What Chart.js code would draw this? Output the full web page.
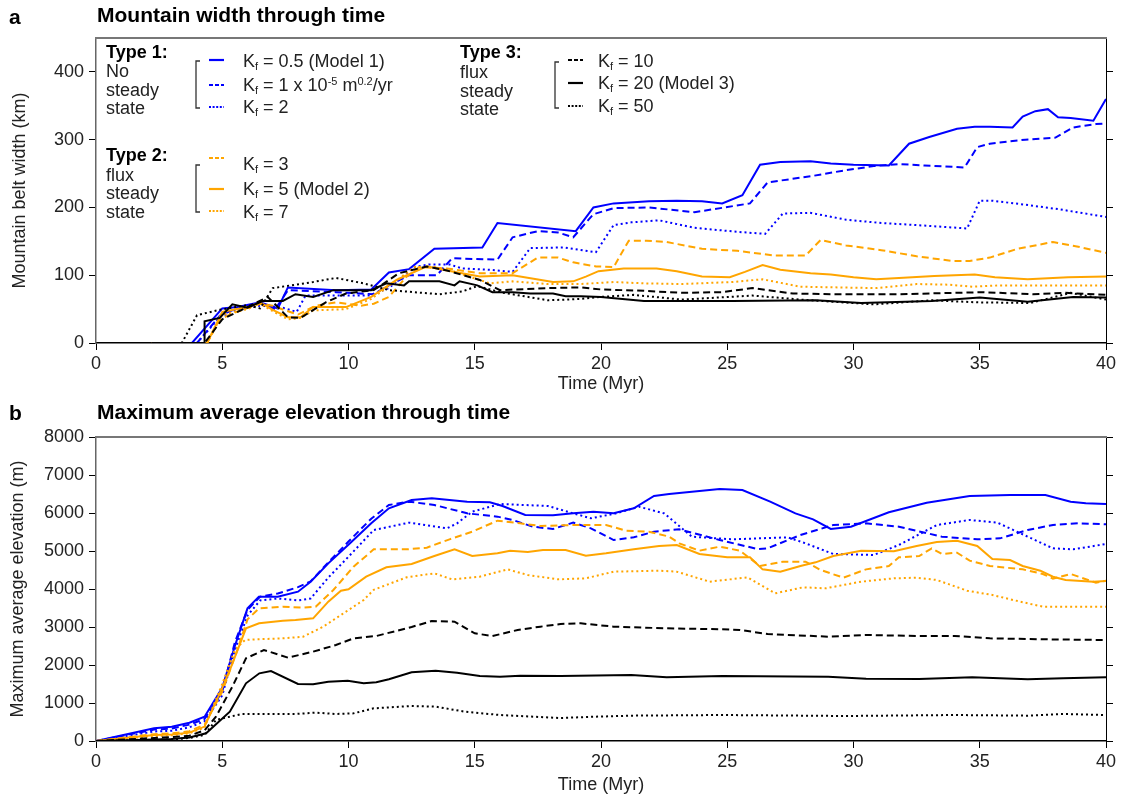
<!DOCTYPE html>
<html><head><meta charset="utf-8">
<script src="https://cdn.jsdelivr.net/npm/chart.js@4.4.1/dist/chart.umd.min.js"></script>
<style>
body{margin:0;background:#fff;}
#wrap{position:relative;width:1123px;height:801px;overflow:hidden;font-family:'Liberation Sans',Arial,sans-serif;color:#222;}
canvas{position:absolute;left:0;}
.t{position:absolute;white-space:nowrap;font-size:18px;line-height:22px;}
.b{font-weight:bold;color:#000;}
.h{position:absolute;white-space:nowrap;font-weight:bold;font-size:21px;line-height:26px;color:#000;}
sub{font-size:11px;vertical-align:-3px;line-height:0;}
sup{font-size:11px;vertical-align:6px;line-height:0;}
svg{position:absolute;left:0;top:0;}
</style></head>
<body><div id="wrap">
<canvas id="ca" width="1123" height="400" style="top:0"></canvas>
<canvas id="cb" width="1123" height="401" style="top:400px"></canvas>
<svg width="1123" height="801" viewBox="0 0 1123 801">
 <g fill="none" stroke="#333" stroke-width="1.3">
  <path d="M200 61 H196 V108 H200"/>
  <path d="M200 165 H196 V212 H200"/>
  <path d="M559 62 H555 V108 H559"/>
 </g>
 <g fill="none" stroke-width="2.2">
  <line x1="209" y1="60" x2="224" y2="60" stroke="#0000ff"/>
  <line x1="209" y1="85" x2="224" y2="85" stroke="#0000ff" stroke-dasharray="4,2"/>
  <line x1="209" y1="107" x2="224" y2="107" stroke="#0000ff" stroke-dasharray="2,1.6"/>
  <line x1="209" y1="158" x2="224" y2="158" stroke="#ffa500" stroke-dasharray="4,2"/>
  <line x1="209" y1="189" x2="224" y2="189" stroke="#ffa500"/>
  <line x1="209" y1="211" x2="224" y2="211" stroke="#ffa500" stroke-dasharray="2,1.6"/>
  <line x1="568" y1="60" x2="583" y2="60" stroke="#000" stroke-dasharray="4,2"/>
  <line x1="568" y1="83" x2="583" y2="83" stroke="#000"/>
  <line x1="568" y1="106" x2="583" y2="106" stroke="#000" stroke-dasharray="2,1.6"/>
 </g>
</svg>
<div class="h" style="left:9px;top:4px">a</div>
<div class="h" style="left:97px;top:2px">Mountain width through time</div>
<div class="h" style="left:9px;top:400px">b</div>
<div class="h" style="left:97px;top:399px">Maximum average elevation through time</div>

<div class="t b" style="left:106px;top:41px">Type 1:</div>
<div class="t" style="left:106px;top:60px">No</div>
<div class="t" style="left:106px;top:79px">steady</div>
<div class="t" style="left:106px;top:97px">state</div>
<div class="t" style="left:243px;top:50px">K<sub>f</sub> = 0.5 (Model 1)</div>
<div class="t" style="left:243px;top:74px">K<sub>f</sub> = 1 x 10<sup>-5</sup> m<sup>0.2</sup>/yr</div>
<div class="t" style="left:243px;top:96px">K<sub>f</sub> = 2</div>

<div class="t b" style="left:106px;top:144px">Type 2:</div>
<div class="t" style="left:106px;top:164px">flux</div>
<div class="t" style="left:106px;top:182px">steady</div>
<div class="t" style="left:106px;top:201px">state</div>
<div class="t" style="left:243px;top:153px">K<sub>f</sub> = 3</div>
<div class="t" style="left:243px;top:178px">K<sub>f</sub> = 5 (Model 2)</div>
<div class="t" style="left:243px;top:201px">K<sub>f</sub> = 7</div>

<div class="t b" style="left:460px;top:41px">Type 3:</div>
<div class="t" style="left:460px;top:61px">flux</div>
<div class="t" style="left:460px;top:80px">steady</div>
<div class="t" style="left:460px;top:98px">state</div>
<div class="t" style="left:598px;top:50px">K<sub>f</sub> = 10</div>
<div class="t" style="left:598px;top:72px">K<sub>f</sub> = 20 (Model 3)</div>
<div class="t" style="left:598px;top:95px">K<sub>f</sub> = 50</div>
</div>
<script>
// ---------- Panel a: mountain belt width (km) ----------
const A_K05_T = [2.2,3.8,5.0,5.6,6.5,7.2,7.6,9.5,10.9,11.6,12.4,13.4,15.3,15.9,19.0,19.7,20.5,21.9,23.0,24.0,24.8,25.6,26.3,27.1,28.3,29.1,30.0,31.4,32.2,33.0,34.1,34.8,35.4,36.3,36.7,37.2,37.7,38.1,38.6,39.5,40.0];
const A_K05_V = [0,0,51,53,60,51,82,78,79,104,109,139,141,177,165,200,206,209,210,209,206,218,263,267,268,265,263,262,294,304,316,319,319,318,334,342,345,333,332,328,360];
const A_K1_T = [2.2,4.0,4.9,5.5,6.5,7.1,7.6,9.5,11.0,11.6,12.4,13.5,14.1,15.9,16.5,17.5,18.3,18.9,19.7,20.5,21.9,23.7,24.9,25.9,26.6,28.3,29.7,30.8,31.8,32.8,34.4,34.9,35.4,36.8,38.0,38.7,39.6,40.0];
const A_K1_V = [0,0,40,50,58,50,78,75,72,85,100,100,125,123,156,165,163,156,190,199,200,193,200,206,237,246,255,261,264,262,259,289,294,300,303,318,323,324];
const A_K2_T = [2.2,4.0,4.9,5.5,6.5,7.3,7.95,8.3,8.9,10.8,11.6,12.6,13.2,14.0,14.5,15.6,16.5,17.2,18.5,19.8,20.5,21.2,22.3,23.7,25.4,26.5,27.2,28.3,29.7,31.1,32.5,34.5,35.0,35.5,36.8,38.2,40.0];
const A_K2_V = [0,0,38,48,55,53,46,70,70,70,81,112,116,116,110,108,105,140,141,134,174,178,181,170,164,161,191,192,182,177,174,169,210,210,204,197,186];
const A_K3_T = [2.2,4.4,4.9,5.5,6.5,7.0,7.5,8.0,8.7,9.5,10.5,11.0,11.6,12.3,12.8,13.9,15.2,16.5,17.5,18.3,18.9,19.8,20.5,21.1,21.8,22.6,24.0,25.4,26.9,28.1,28.7,29.7,31.1,32.5,33.9,34.6,35.4,36.5,37.9,38.9,40.0];
const A_K3_V = [0,0,35,45,58,55,48,42,55,60,55,58,68,98,112,110,103,103,126,126,119,113,112,151,151,149,139,136,129,129,152,144,137,128,121,121,126,139,149,142,133];
const A_K5_T = [2.2,4.4,5.0,6.0,6.5,7.0,7.6,8.1,8.6,9.9,10.9,11.9,13.1,13.9,15.2,16.5,18.1,18.9,19.4,19.9,20.9,22.2,23.0,24.0,25.1,25.7,26.4,27.1,28.3,29.1,30.0,30.9,31.8,33.2,34.8,35.6,36.9,38.5,40.0];
const A_K5_V = [0,0,46,53,60,49,38,38,53,53,68,93,113,107,98,100,90,91,98,106,110,110,106,98,97,105,115,108,103,101,97,94,96,99,101,97,94,97,98];
const A_K7_T = [2.2,4.4,5.0,6.0,6.5,7.0,7.6,8.1,8.6,9.9,10.9,11.9,12.6,13.4,14.2,15.6,16.5,17.9,19.2,20.5,21.7,23.2,25.2,26.4,27.9,30.9,32.5,33.8,34.7,35.8,40.0];
const A_K7_V = [0,0,42,50,58,47,35,37,48,50,65,92,112,112,105,88,91,87,87,90,88,87,90,94,83,81,87,86,83,85,85];
const A_K10_T = [2.2,4.3,5.0,6.0,6.8,7.6,8.1,9.1,9.9,11.0,12.0,13.1,13.9,15.2,16.0,17.9,19.2,20.0,21.7,23.2,24.8,26.0,27.6,29.2,31.8,35.1,37.1,38.4,40.0];
const A_K10_V = [0,0,35,53,68,38,37,60,73,78,103,113,107,93,78,81,82,79,77,74,75,81,73,72,72,75,72,74,71];
const A_K20_T = [2.2,4.3,4.3,4.9,5.4,6.0,6.6,7.4,7.9,8.6,9.4,10.9,11.5,12.2,12.4,13.6,14.2,14.4,15.1,15.7,16.5,17.2,18.1,18.6,19.2,20.0,21.7,25.2,28.5,30.3,33.1,35.0,36.9,38.7,40.0];
const A_K20_V = [0,0,32,37,57,52,62,62,72,68,78,78,88,85,91,91,85,91,85,75,75,73,73,69,69,68,62,62,63,59,62,67,61,68,67];
const A_K50_T = [2.2,3.4,4.0,4.9,6.0,6.5,7.0,8.6,9.5,10.6,11.6,12.6,13.6,14.5,15.1,16.0,17.9,19.2,20.0,21.3,23.2,26.0,27.9,30.8,33.1,34.9,37.0,38.6,40.0];
const A_K50_V = [0,0,41,49,56,51,81,90,96,88,78,75,72,76,84,75,63,65,68,71,64,70,64,57,63,60,59,74,64];

// ---------- Panel b: maximum average elevation (m) ----------
const B_K05_T = [0,2.3,3.0,3.7,4.3,5.0,5.5,6.0,6.45,7.2,8.0,8.5,9.2,10.06,10.9,11.6,12.5,13.3,14.7,15.6,16.1,17.0,18.1,18.9,19.7,20.5,21.3,22.1,22.7,24.7,25.6,26.7,27.7,28.4,29.1,29.9,31.4,32.9,34.6,36.2,37.6,38.6,39.2,40.0];
const B_K05_V = [0,333,377,482,640,1400,2500,3490,3798,3798,3930,4193,4675,5202,5728,6123,6342,6390,6298,6280,6184,5947,5940,5991,6034,5991,6123,6447,6500,6632,6605,6298,5991,5833,5579,5640,6018,6272,6447,6474,6474,6298,6254,6237];
const B_K1_T = [0,2.3,3.0,3.7,4.3,5.0,5.5,6.0,6.5,7.2,8.0,8.5,9.2,10.0,10.9,11.6,12.4,13.4,14.7,15.9,16.5,17.3,18.1,18.9,19.6,20.5,21.3,22.1,23.1,24.7,26.2,26.6,27.9,29.2,30.5,31.8,33.5,34.9,35.8,36.9,37.9,38.9,40.0];
const B_K1_V = [0,300,330,430,580,1300,2600,3450,3800,3880,4050,4200,4700,5250,5850,6211,6298,6211,5991,5904,5816,5640,5579,5746,5596,5289,5360,5509,5570,5289,5052,5070,5421,5684,5728,5640,5377,5307,5333,5553,5684,5728,5702];
const B_K2_T = [0,2.3,3.0,3.7,4.3,5.0,5.5,6.0,6.5,7.2,8.0,8.5,9.2,10.0,11.0,12.4,13.9,14.3,14.9,16.0,17.9,18.9,19.6,20.6,21.5,22.5,23.6,25.2,27.4,28.1,29.2,30.8,31.8,33.3,34.6,35.7,36.9,37.9,38.7,40.0];
const B_K2_V = [0,250,270,360,520,1200,2400,3300,3700,3750,3700,3750,4300,4850,5553,5746,5596,5728,6034,6237,6184,5991,5860,5991,6166,5991,5377,5307,5360,5202,4921,4895,5158,5684,5816,5746,5377,5070,5044,5184];
const B_K3_T = [0,2.3,3.0,3.7,4.3,5.0,5.6,6.0,6.46,7.4,8.2,8.7,9.4,10.2,11.0,12.3,13.1,14.0,14.9,15.9,16.8,17.6,18.9,20.2,21.0,21.9,22.7,23.1,23.9,24.7,25.5,26.3,27.2,28.1,28.7,29.6,30.5,31.4,31.8,32.6,33.1,33.5,34.1,34.6,35.4,36.7,37.5,37.9,38.6,39.6,40.0];
const B_K3_V = [0,180,200,260,430,1300,2400,3200,3491,3535,3509,3535,3974,4587,5044,5044,5088,5307,5509,5798,5728,5658,5684,5684,5535,5509,5377,5202,5009,5114,5009,4605,4719,4719,4500,4298,4517,4605,4833,4868,5070,4921,4956,4745,4605,4517,4395,4271,4395,4166,4219];
const B_K5_T = [0,2.3,3.0,3.7,4.3,5.0,5.3,5.94,6.46,7.4,7.9,8.6,9.2,9.7,10.0,10.7,11.5,12.5,13.4,14.2,14.9,15.9,16.4,17.1,17.7,18.6,19.4,20.2,21.3,22.3,23.0,23.9,25.0,25.9,26.4,27.1,27.9,28.5,29.2,30.3,31.6,32.5,33.3,34.1,34.9,35.5,36.2,36.7,37.4,37.9,38.4,39.5,40.0];
const B_K5_V = [0,160,170,220,380,1400,1868,2965,3097,3167,3184,3228,3667,3956,3991,4324,4570,4658,4868,5044,4868,4939,5009,4974,5026,5026,4877,4939,5044,5132,5158,4921,4833,4833,4517,4456,4605,4702,4868,5009,4991,5132,5237,5272,5132,4789,4763,4605,4482,4324,4237,4193,4211];
const B_K7_T = [0,2.3,3.0,3.7,4.3,5.0,5.5,5.9,6.3,7.4,8.2,9.0,9.8,10.6,11.0,12.3,13.4,14.1,15.2,16.3,17.1,18.3,19.4,20.5,22.3,23.0,24.3,25.8,26.9,28.0,28.9,30.3,31.6,32.5,33.3,34.5,35.5,36.6,37.5,40.0];
const B_K7_V = [0,130,150,200,360,1500,2400,2658,2675,2702,2745,3009,3360,3711,3980,4307,4412,4254,4324,4517,4368,4254,4281,4456,4482,4456,4193,4307,3886,4044,4018,4193,4281,4298,4237,3956,3842,3667,3535,3535];
const B_K10_T = [0,2.3,3.0,3.7,4.3,4.75,5.4,5.94,6.65,7.6,8.6,9.5,10.2,11.1,12.5,13.3,14.2,15.0,15.7,16.7,17.6,18.4,19.2,20.5,22.6,24.8,25.5,26.6,29.0,30.5,32.6,34.0,35.4,37.6,40.0];
const B_K10_V = [0,80,100,140,280,640,1430,2175,2395,2193,2351,2526,2702,2763,3000,3158,3140,2833,2763,2921,3009,3079,3097,3009,2965,2939,2921,2816,2745,2789,2763,2763,2702,2675,2658];
const B_K20_T = [0,2.3,3.0,3.7,4.36,5.3,5.94,6.47,6.93,8.0,8.6,9.2,9.97,10.6,11.1,11.6,12.5,13.45,14.3,15.2,16.0,16.8,18.4,21.2,22.6,24.8,29.0,30.5,32.6,34.7,36.9,38.3,40.0];
const B_K20_V = [0,40,50,90,202,772,1518,1781,1842,1500,1491,1561,1588,1518,1544,1623,1807,1851,1798,1711,1693,1719,1711,1737,1675,1711,1693,1640,1632,1675,1623,1649,1675];
const B_K50_T = [0,2.3,3.0,3.7,4.3,4.75,5.3,5.8,7.9,8.7,9.5,10.2,11.0,12.5,13.45,14.6,16.0,18.4,19.8,21.2,24.8,29.7,34.0,36.9,38.3,40.0];
const B_K50_V = [0,30,40,80,160,553,640,711,711,746,711,728,860,921,904,772,684,605,640,667,684,658,684,667,711,684];

const X_TICKS = [0,5,10,15,20,25,30,35,40];
const A_Y_TICKS = [0,100,200,300,400];
const B_Y_TICKS = [0,1000,2000,3000,4000,5000,6000,7000,8000];

const BLUE = '#0000ff', ORANGE = '#ffa500', BLACK = '#000000';
const SOLID = [], DASH = [7,4], DOT = [2,3];
const FONT = "'Liberation Sans', Arial, sans-serif";

function ds(label, t, v, color, dash) {
  return { label, data: t.map((x, i) => ({ x, y: v[i] })), borderColor: color, borderDash: dash,
           borderWidth: 2, pointRadius: 0, tension: 0, fill: false, borderCapStyle: 'butt' };
}

const frame = { id: 'frame', afterDraw(c) {
  const a = c.chartArea, x = c.ctx; x.save(); x.strokeStyle = '#777'; x.lineWidth = 2;
  x.beginPath(); x.moveTo(a.left - 1, a.top); x.lineTo(a.right + 1, a.top); x.stroke(); x.restore(); } };

function makeChart(id, sets, yTicks, yMax, yTitle, padTop, xH, yTitlePad) {
  const tickList = (vals) => (s) => { s.ticks = vals.map(v => ({ value: v })); };
  const plain = (v) => String(v);
  return new Chart(document.getElementById(id), {
    type: 'line',
    data: { datasets: sets },
    plugins: [frame],
    options: {
      responsive: false, animation: false, devicePixelRatio: 1,
      layout: { padding: { top: padTop, left: 0, right: 0, bottom: 0 } },
      plugins: { legend: { display: false }, tooltip: { enabled: false } },
      scales: {
        x: { type: 'linear', min: 0, max: 40, afterBuildTicks: tickList(X_TICKS),
             afterFit: (s) => { s.height = xH; },
             grid: { display: true, drawOnChartArea: false, drawTicks: true, tickLength: 7, color: '#000' },
             border: { display: true, color: '#000', width: 1.5 },
             ticks: { color: '#222', font: { family: FONT, size: 18 }, padding: 3, maxRotation: 0, callback: plain },
             title: { display: true, text: 'Time (Myr)', color: '#222', font: { family: FONT, size: 18 }, padding: { top: 0, bottom: 5 } } },
        y: { type: 'linear', min: 0, max: yMax, position: 'left', afterBuildTicks: tickList(yTicks),
             afterFit: (s) => { s.width = 96; },
             grid: { display: true, drawOnChartArea: false, drawTicks: true, tickLength: 7, color: '#000' },
             border: { display: true, color: '#666', width: 1.5 },
             ticks: { color: '#222', font: { family: FONT, size: 18 }, padding: 5, callback: plain },
             title: { display: true, text: yTitle, color: '#222', font: { family: FONT, size: 18 }, padding: { top: yTitlePad, bottom: 0 } } },
        y2: { type: 'linear', min: 0, max: yMax, position: 'right', afterBuildTicks: tickList(yTicks),
             afterFit: (s) => { s.width = 17; },
             grid: { display: true, drawOnChartArea: false, drawTicks: true, tickLength: 7, color: '#000' },
             border: { display: true, color: '#000', width: 1 },
             ticks: { display: false } }
      }
    }
  });
}

makeChart('ca', [
  ds('Kf = 50', A_K50_T, A_K50_V, BLACK, DOT),
  ds('Kf = 10', A_K10_T, A_K10_V, BLACK, DASH),
  ds('Kf = 20 (Model 3)', A_K20_T, A_K20_V, BLACK, SOLID),
  ds('Kf = 7', A_K7_T, A_K7_V, ORANGE, DOT),
  ds('Kf = 3', A_K3_T, A_K3_V, ORANGE, DASH),
  ds('Kf = 5 (Model 2)', A_K5_T, A_K5_V, ORANGE, SOLID),
  ds('Kf = 2', A_K2_T, A_K2_V, BLUE, DOT),
  ds('Kf = 1e-5', A_K1_T, A_K1_V, BLUE, DASH),
  ds('Kf = 0.5 (Model 1)', A_K05_T, A_K05_V, BLUE, SOLID)
], A_Y_TICKS, 450, 'Mountain belt width (km)', 38, 57, 9);

makeChart('cb', [
  ds('Kf = 50', B_K50_T, B_K50_V, BLACK, DOT),
  ds('Kf = 10', B_K10_T, B_K10_V, BLACK, DASH),
  ds('Kf = 20 (Model 3)', B_K20_T, B_K20_V, BLACK, SOLID),
  ds('Kf = 7', B_K7_T, B_K7_V, ORANGE, DOT),
  ds('Kf = 3', B_K3_T, B_K3_V, ORANGE, DASH),
  ds('Kf = 5 (Model 2)', B_K5_T, B_K5_V, ORANGE, SOLID),
  ds('Kf = 2', B_K2_T, B_K2_V, BLUE, DOT),
  ds('Kf = 1e-5', B_K1_T, B_K1_V, BLUE, DASH),
  ds('Kf = 0.5 (Model 1)', B_K05_T, B_K05_V, BLUE, SOLID)
], B_Y_TICKS, 8000, 'Maximum average elevation (m)', 37, 60, 7);
</script>
</body></html>
